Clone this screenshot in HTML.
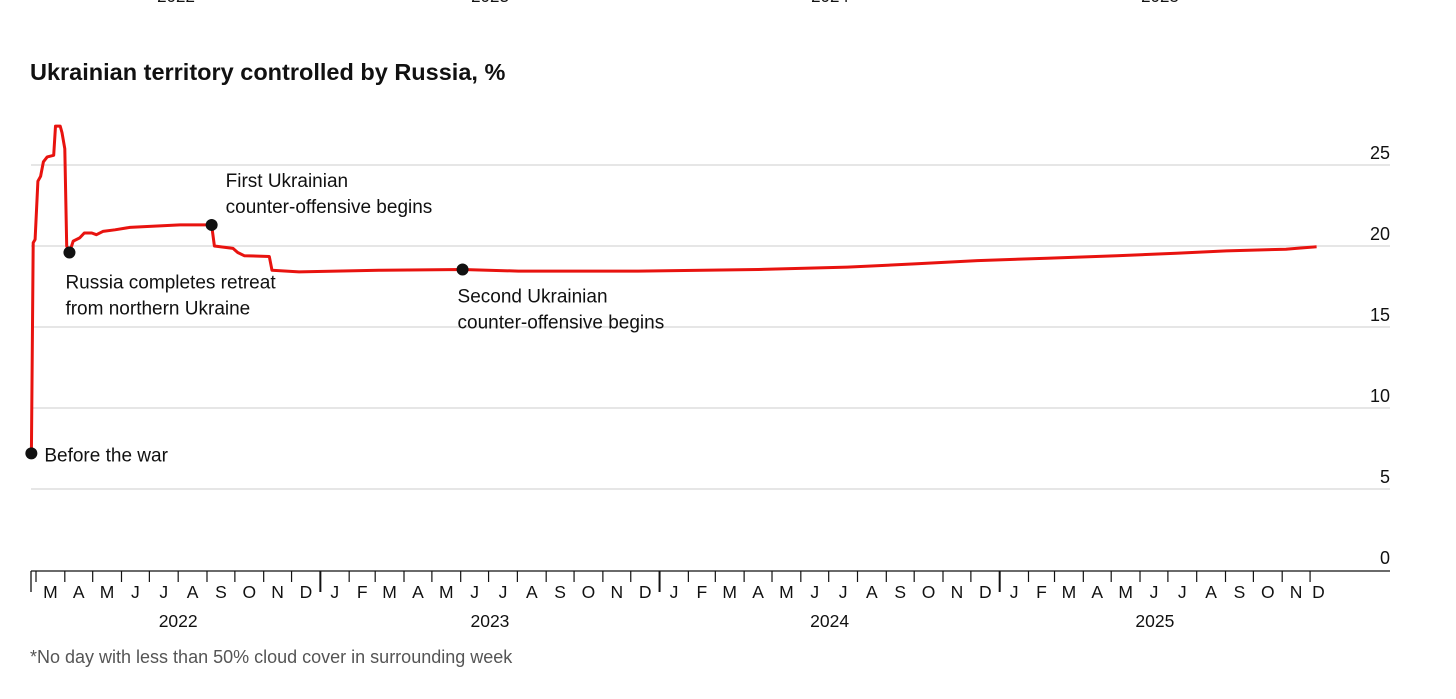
<!DOCTYPE html>
<html><head><meta charset="utf-8">
<style>
html,body{margin:0;padding:0;background:#fff;width:1456px;height:699px;overflow:hidden;}
svg{display:block;font-family:"Liberation Sans",sans-serif;}
</style></head>
<body>
<svg id="chart" width="1456" height="699" viewBox="0 0 1456 699">
<g font-size="17" fill="#111">
<text x="176" y="2" text-anchor="middle">2022</text>
<text x="490" y="2" text-anchor="middle">2023</text>
<text x="830" y="2" text-anchor="middle">2024</text>
<text x="1160" y="2" text-anchor="middle">2025</text>
</g>
<text x="30" y="80" font-size="23.5" font-weight="bold" fill="#111">Ukrainian territory controlled by Russia, %</text>
<g id="grid"></g><g id="xaxis"></g><g id="series"></g><g id="notes"></g>
<text x="30" y="663" font-size="18" fill="#555">*No day with less than 50% cloud cover in surrounding week</text>
</svg>
<script>
// data: days offset from 1 Mar 2022, values in %
const dayOffsets=[-5,-3,-1,2,5,8,12,19,21,26,28,31,33,36,40,47,52,60,65,72,85,101,117,155,189,192,212,217,224,251,254,283,369,459,519,648,777,873,948,1013,1088,1163,1227,1281,1345,1356,1378];
const values=[7.2,20.2,20.4,24.0,24.3,25.2,25.5,25.6,27.4,27.4,27.0,26.0,20.0,19.6,20.3,20.5,20.8,20.8,20.7,20.9,21.0,21.15,21.2,21.3,21.3,20.0,19.85,19.6,19.4,19.35,18.5,18.4,18.5,18.55,18.45,18.45,18.55,18.7,18.9,19.1,19.25,19.4,19.55,19.7,19.8,19.85,19.95];
const yTicks=[0,5,10,15,20,25];
const monthLetters=["J","F","M","A","M","J","J","A","S","O","N","D"];
const yearLabels=["2022","2023","2024","2025"];
const annDays=[-5,36,189,459];
const annValues=[7.2,19.6,21.3,18.55];
const annTexts=[["Before the war"],["Russia completes retreat","from northern Ukraine"],["First Ukrainian","counter-offensive begins"],["Second Ukrainian","counter-offensive begins"]];

const NS="http://www.w3.org/2000/svg";
const X0=36,PXD=0.9293,Y0=570,PYU=16.2;
const x=d=>X0+d*PXD, y=v=>Y0-v*PYU;
const base=Date.UTC(2022,2,1);
const dayOf=(yr,m)=>(Date.UTC(yr,m,1)-base)/86400000;
function mk(tag,attrs,parent){const e=document.createElementNS(NS,tag);for(const k in attrs)e.setAttribute(k,attrs[k]);parent.appendChild(e);return e;}
const grid=document.getElementById('grid'),xa=document.getElementById('xaxis'),se=document.getElementById('series'),no=document.getElementById('notes');
yTicks.forEach(v=>{
 if(v>0){const l=mk('line',{x1:31,x2:1390,y1:y(v),y2:y(v),stroke:'#ccc','stroke-width':1},grid);
 
 }
 const t=mk('text',{x:1390,y:y(v)-6,'text-anchor':'end','font-size':18,fill:'#111'},grid);t.textContent=v;
 
 
});
const ax=mk('line',{x1:31,x2:1390,y1:571,y2:571,stroke:'#111','stroke-width':1.3},xa);


const lt=mk('line',{x1:31,x2:31,y1:571,y2:592,stroke:'#111','stroke-width':1.3},xa);


for(let yr=2022;yr<=2025;yr++){
 for(let m=(yr==2022?2:0);m<=11;m++){
  const d=dayOf(yr,m),xx=x(d);
  const tk=mk('line',{x1:xx,x2:xx,y1:571,y2:m==0?592:582,stroke:'#111','stroke-width':m==0?2:1.2},xa);
  
  
  const last=(yr==2025&&m==11);
  const cx=last?xx+2:(xx+x(dayOf(m==11?yr+1:yr,(m+1)%12)))/2;
  const t=mk('text',{x:cx,y:598,'text-anchor':last?'start':'middle','font-size':17.5,fill:'#111'},xa);t.textContent=monthLetters[m];
  
  
 }
}
yearLabels.forEach((yl,i)=>{
 const yr=2022+i;const a=yr==2022?dayOf(2022,2):dayOf(yr,0),b=yr==2025?dayOf(2025,11):dayOf(yr+1,0);
 const t=mk('text',{x:(x(a)+x(b))/2,y:627,'text-anchor':'middle','font-size':17.5,fill:'#111'},xa);t.textContent=yl;
 
 
});
const pts=dayOffsets.map((d,i)=>x(d).toFixed(1)+','+y(values[i]).toFixed(1)).join(' ');
const pl=mk('polyline',{points:pts,fill:'none',stroke:'#e8130f','stroke-width':3,'stroke-linejoin':'round'},se);


const offs=[[13,8],[-4,36],[14,-38],[-5,33]];
annDays.forEach((d,i)=>{
 const c=mk('circle',{cx:x(d),cy:y(annValues[i]),r:6,fill:'#111'},no);
 
 
 annTexts[i].forEach((s,j)=>{
  const t=mk('text',{x:x(d)+offs[i][0],y:y(annValues[i])+offs[i][1]+j*26,'font-size':19,fill:'#111'},no);t.textContent=s;
  
  
 });
});
</script>
</body></html>
